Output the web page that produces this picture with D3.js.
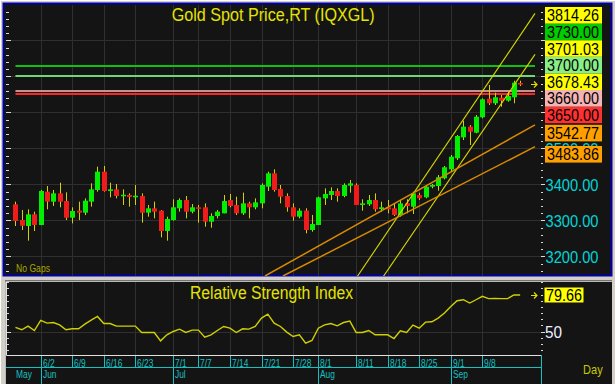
<!DOCTYPE html>
<html><head><meta charset="utf-8">
<script src="https://cdn.jsdelivr.net/npm/d3@7/dist/d3.min.js"></script>
<style>body{margin:0;background:#d4d0c8;}svg{display:block}</style>
</head><body><svg id="c" width="615" height="384"></svg>
<script>
// ---------- DATA ----------
const dates = ["5/27","5/28","5/29","5/30",
"6/2","6/3","6/4","6/5","6/6","6/9","6/10","6/11","6/12","6/13","6/16","6/17","6/18","6/19","6/20","6/23","6/24","6/25","6/26","6/27","6/30",
"7/1","7/2","7/3","7/4","7/7","7/8","7/9","7/10","7/11","7/14","7/15","7/16","7/17","7/18","7/21","7/22","7/23","7/24","7/25","7/28","7/29","7/30","7/31",
"8/1","8/4","8/5","8/6","8/7","8/8","8/11","8/12","8/13","8/14","8/15","8/18","8/19","8/20","8/21","8/22","8/25","8/26","8/27","8/28","8/29",
"9/1","9/2","9/3","9/4","9/5","9/8","9/9","9/10","9/11","9/12","9/15","9/16"];
const open  = [3344.9,3301.3,3284.7,3317.1,3287.5,3380,3352.3,3375.4,3354.1,3307.8,3327.3,3321.7,3352.3,3384.7,3435.6,3381.9,3386.5,3368,3370.8,3364.3,3368,3321.7,3333.8,3327.3,3270.8,3301.3,3333.8,3356.9,3324.5,3336.6,3336.6,3296.7,3312.4,3319.9,3356.9,3343,3319.9,3347.6,3336.6,3347.6,3394,3431,3387.5,3368,3336.6,3310.6,3327.3,3273.6,3287.5,3361.5,3370.8,3381.9,3368,3396.7,3398.6,3343,3344.9,3356.9,3331.9,3336.6,3333.8,3315.3,3347.8,3338.3,3370.8,3364.4,3393.9,3395.8,3417.2,3442.2,3472.8,3531,3560.6,3543.9,3586.7,3638.3,3625.6,3641.1,3632.8,3642.2,3682];
const high  = [3352.3,3329.1,3331,3324.5,3384.7,3395.8,3384.7,3405,3378.2,3336.6,3352.3,3361.5,3403.2,3449.5,3451.4,3405,3401.4,3386.5,3375.4,3398.6,3375.4,3343,3352.3,3329,3310.6,3358.8,3361.5,3368,3345.8,3343,3347.6,3319.9,3329.1,3370.8,3373.6,3366.2,3377.3,3352.3,3361.5,3403.2,3435.6,3442.1,3398.6,3375.4,3347.6,3333.8,3333.8,3315.3,3366.2,3389.3,3392.1,3389.3,3403.2,3412.5,3403.2,3358.8,3370.8,3375.4,3352.3,3356.9,3347.6,3356.9,3358.9,3380,3377,3398.6,3401.4,3426.4,3451.4,3481.9,3537.5,3577.2,3565.3,3593,3639.4,3676.4,3655,3648.6,3657.8,3688.3,3688.3];
const low   = [3284.7,3273.6,3244,3270.8,3287,3331,3340.3,3336.6,3301.3,3292,3301.3,3315,3338.4,3380,3380,3364.3,3361.5,3343,3338.4,3343,3294,3310.6,3306,3253.2,3244,3299.5,3324.5,3306,3319.9,3294,3282.8,3280,3306,3319.9,3336.6,3315.3,3315.3,3306,3331,3333.8,3381.9,3380,3347.6,3324.5,3299.5,3306,3264.3,3268.9,3287.5,3343,3356.9,3352.3,3364.3,3377.3,3343,3327.3,3340.3,3324.5,3324.5,3320,3312.4,3310.6,3320,3318,3357,3361.7,3389.4,3382.8,3414.4,3435.6,3468,3523.6,3509.7,3542.2,3583.9,3620.8,3620.8,3616.1,3630,3625.6,3673.6];
const close = [3298.6,3285.6,3317.1,3287.5,3381.9,3352.3,3375.4,3352.3,3307.8,3326.3,3321.7,3355,3386.5,3435.6,3381.9,3386.5,3368,3371.7,3365.2,3368.9,3321.7,3333.8,3324.5,3270.8,3304.1,3336.6,3356.9,3324.5,3336.6,3334.7,3296.7,3312.4,3324.5,3354.1,3340.3,3319.9,3347.6,3336.6,3350.4,3398.6,3431,3384.7,3366.2,3336.6,3310.6,3327.3,3273.6,3290.2,3364.3,3373.6,3381.9,3368,3398.6,3403.2,3343,3347.6,3356.9,3331,3336.6,3331,3315.3,3347.6,3340.3,3375.5,3361.7,3393.9,3398.6,3420,3447.8,3477.2,3534.7,3560.6,3546.7,3588.3,3636.7,3625.6,3642.2,3632.8,3645.8,3682.8,3678.43];
const rsi   = [53.3,51.4,54.4,50.8,59.0,56.8,57.3,55.4,51.4,52.2,52.2,56.0,59.3,62.2,56.5,56.5,54.4,54.4,54.4,54.4,49.2,49.2,49.2,42.4,47.3,50.0,51.9,49.2,51.1,51.1,45.4,47.3,50.8,54.1,52.7,49.2,52.2,51.9,54.1,60.9,64.1,56.8,54.1,49.5,45.9,47.3,40.5,42.7,52.7,55.4,56.5,54.6,57.3,58.4,49.2,49.2,50.8,47.3,47.3,47.3,44.3,50.5,49.2,55.2,52.7,57.6,57.9,60.9,65.0,70.4,75.0,75.8,73.1,75.8,78.6,76.7,76.9,76.7,76.7,79.7,79.66];
// horizontal level lines (price, colour of line, colour of label box)
const levels = [3730, 3700, 3660, 3650];
const levelColors = ["#10c010", "#70d870", "#c89090", "#ff2424"];
const levelBoxColors = ["#00cc00", "#88ee88", "#f4b4b4", "#ff3030"];
// trend lines: [dateIndex, price] start and at last bar
const trendStart = [[54.13, 3143.1], [58.26, 3143.1], [39.55, 3145.8], [42.4, 3145.8]];
const trendEnd   = [[80, 3814.26], [80, 3701.03], [80, 3542.77], [80, 3483.86]];
const trendColors = ["#d8d800", "#d8d800", "#d88a00", "#d88a00"];
const trendBoxColors = ["#ffff00", "#ffff00", "#ffa000", "#ffa000"];
const gridTicks = [3200, 3300, 3400, 3500, 3600, 3700, 3800];
const priceTickLabels = [3200, 3300, 3400, 3500];
const rsiTicks = [50];
const weekLabels = ["6/2","6/9","6/16","6/23","7/1","7/7","7/14","7/21","7/28","8/1","8/11","8/18","8/25","9/1","9/8"];
const monthLabels = ["May","Jun","Jul","Aug","Sep"];
const monthStarts = ["5/27","6/2","7/1","8/1","9/1"];
const lineEndIndex = 82.35;

// ---------- LAYOUT ----------
const FONT = "'Liberation Sans', Arial, sans-serif";
const svg = d3.select("#c");
const M = {l: 6, r: 541, t: 5, b: 276};
const R = {t: 282, b: 355};
const x = d3.scaleLinear().domain([-1.5, 83.3]).range([M.l, M.r]);
const y = d3.scaleLinear().domain([3145.8, 3898.6]).range([M.b, M.t]);
const yr = d3.scaleLinear().domain([50 - (R.b - 331.5) / 1.2307, 50 + (331.5 - R.t) / 1.2307]).range([R.b, R.t]);
const px = v => Math.round(v) + 0.5;

function condense(sel, f) {
  sel.each(function () {
    const n = this.getComputedTextLength();
    this.setAttribute("textLength", n * f);
    this.setAttribute("lengthAdjust", "spacingAndGlyphs");
  });
}

// background / frames
svg.append("rect").attr("width", 615).attr("height", 384).attr("fill", "#d4d0c8");
svg.append("line").attr("x1", 0).attr("x2", 615).attr("y1", 0.5).attr("y2", 0.5).attr("stroke", "#fff");
svg.append("line").attr("x1", 0.5).attr("x2", 0.5).attr("y1", 0).attr("y2", 384).attr("stroke", "#fff");
svg.append("rect").attr("x", 3.5).attr("y", 3.5).attr("width", 608).attr("height", 272)
  .attr("fill", "#141414").attr("stroke", "#0000a8").attr("stroke-width", 2);
svg.append("rect").attr("x", 5).attr("y", 280.5).attr("width", 607).attr("height", 104).attr("fill", "#141414");
svg.append("path").attr("d", "M5.5,384V281.5H612").attr("fill", "none").attr("stroke", "#b8b8b8");

const defs = svg.append("defs");
defs.append("clipPath").attr("id", "clipMain").append("rect")
  .attr("x", M.l).attr("y", M.t).attr("width", M.r - M.l).attr("height", M.b - M.t);

const weekIdx = weekLabels.map(d => dates.indexOf(d));
const monthIdx = monthStarts.map(d => dates.indexOf(d));

// ---------- MAIN PANEL ----------
const grid = svg.append("g").attr("stroke", "#2f2f2f").attr("stroke-width", 1);
grid.selectAll(".hg").data(gridTicks).join("line")
  .attr("x1", M.l).attr("x2", M.r).attr("y1", d => px(y(d))).attr("y2", d => px(y(d)));
grid.selectAll(".vg").data(weekIdx).join("line").attr("class", "vg")
  .attr("x1", d => px(x(d))).attr("x2", d => px(x(d))).attr("y1", M.t).attr("y2", M.b);
grid.selectAll(".vr").data(weekIdx).join("line").attr("class", "vr")
  .attr("x1", d => px(x(d))).attr("x2", d => px(x(d))).attr("y1", R.t).attr("y2", R.b);
grid.append("line").attr("x1", M.l).attr("x2", M.r).attr("y1", px(yr(50))).attr("y2", px(yr(50)));

// axis ticks main (left & right)
const minor = d3.range(3160, 3900, 20);
const tk = svg.append("g").attr("stroke", "#d8d8d8").attr("stroke-width", 1);
tk.selectAll(".lt").data(minor).join("line").attr("class", "lt")
  .attr("x1", M.l).attr("x2", d => M.l + (d % 100 === 0 ? 5 : 3))
  .attr("y1", d => px(y(d))).attr("y2", d => px(y(d)));
tk.selectAll(".rt").data(minor).join("line").attr("class", "rt")
  .attr("x1", M.r).attr("x2", d => M.r + (d % 100 === 0 ? 4 : 2))
  .attr("y1", d => px(y(d))).attr("y2", d => px(y(d)));
const rMinor = d3.range(35, 91, 5);
tk.selectAll(".lrt").data(rMinor).join("line").attr("class", "lrt")
  .attr("x1", M.l).attr("x2", d => M.l + (d % 50 === 0 ? 5 : 3))
  .attr("y1", d => px(yr(d))).attr("y2", d => px(yr(d)));
tk.selectAll(".rrt").data(rMinor).join("line").attr("class", "rrt")
  .attr("x1", M.r).attr("x2", d => M.r + (d % 50 === 0 ? 4 : 2))
  .attr("y1", d => px(yr(d))).attr("y2", d => px(yr(d)));

const plot = svg.append("g").attr("clip-path", "url(#clipMain)");

// level lines
plot.selectAll(".lvl").data(levels).join("line")
  .attr("x1", x(0)).attr("x2", x(lineEndIndex))
  .attr("y1", d => Math.round(y(d))).attr("y2", d => Math.round(y(d)))
  .attr("stroke", (d, i) => levelColors[i]).attr("stroke-width", 2);

// candles
const idx = d3.range(dates.length);
plot.selectAll(".wick").data(idx).join("line")
  .attr("x1", i => px(x(i))).attr("x2", i => px(x(i)))
  .attr("y1", i => y(high[i])).attr("y2", i => y(low[i]))
  .attr("stroke", "#d2d200").attr("stroke-width", 1);
plot.selectAll(".body").data(idx).join("rect")
  .attr("x", i => Math.round(x(i)) - 2).attr("width", 5)
  .attr("y", i => y(Math.max(open[i], close[i])))
  .attr("height", i => Math.max(1.6, Math.abs(y(open[i]) - y(close[i]))))
  .attr("fill", i => close[i] >= open[i] ? "#00ee00" : "#f01c1c");

// trend lines (extended to the right end)
plot.selectAll(".trend").data(trendStart).join("line")
  .attr("x1", d => x(d[0])).attr("y1", d => y(d[1]))
  .attr("x2", (d, i) => x(lineEndIndex))
  .attr("y2", (d, i) => {
    const e = trendEnd[i];
    const slope = (e[1] - d[1]) / (e[0] - d[0]);
    return y(e[1] + slope * (lineEndIndex - e[0]));
  })
  .attr("stroke", (d, i) => trendColors[i]).attr("stroke-width", (d, i) => i < 2 ? 1.1 : 1.5);

// arrows
function arrow(yy) {
  const ay = Math.round(yy) + 0.5;
  svg.append("path").attr("d", `M531,${ay}H537M534,${ay - 3}L537,${ay}L534,${ay + 3}`)
    .attr("stroke", "#e0e000").attr("stroke-width", 1.2).attr("fill", "none");
}
arrow(y(close[close.length - 1]));
arrow(yr(rsi[rsi.length - 1]));

// title & notes
svg.append("text").attr("x", 171.7).attr("y", 20.7).text("Gold  Spot  Price,RT  (IQXGL)")
  .attr("font-family", FONT).attr("font-size", 18).attr("fill", "#e4e400")
  .attr("textLength", 203).attr("lengthAdjust", "spacingAndGlyphs");
svg.append("text").attr("x", 16).attr("y", 272).text("No  Gaps")
  .attr("font-family", FONT).attr("font-size", 10).attr("fill", "#a8a800")
  .attr("textLength", 34).attr("lengthAdjust", "spacingAndGlyphs");

// price axis tick labels (drawn beneath label boxes)
svg.selectAll(".ptl").data(priceTickLabels).join("text")
  .attr("x", 545.5).attr("y", d => y(d) + 6.2).text(d => d.toFixed(2))
  .attr("font-family", FONT).attr("font-size", 17).attr("fill", "#00d4d4")
  .attr("textLength", 53).attr("lengthAdjust", "spacingAndGlyphs");

// label boxes: stacked without overlap
const boxes = [];
trendEnd.forEach((e, i) => boxes.push({v: e[1], bg: trendBoxColors[i]}));
levels.forEach((v, i) => boxes.push({v, bg: levelBoxColors[i]}));
boxes.push({v: close[close.length - 1], bg: "#ffff00"});
boxes.sort((a, b) => a.v - b.v);
const BH = 16.6;
boxes.forEach((b, i) => {
  b.y = y(b.v);
  if (i > 0) b.y = Math.min(b.y, boxes[i - 1].y - BH);
});
for (let i = boxes.length - 1; i >= 0; i--) {
  if (i === boxes.length - 1) boxes[i].y = Math.max(boxes[i].y, M.t + 2 + BH / 2);
  else boxes[i].y = Math.max(boxes[i].y, boxes[i + 1].y + BH);
}
const bx = svg.selectAll(".box").data(boxes).join("g").attr("transform", d => `translate(0,${d.y})`);
bx.append("rect").attr("x", 545).attr("y", -BH / 2).attr("width", 57).attr("height", BH).attr("fill", d => d.bg);
bx.append("text").attr("x", 547).attr("y", 6).text(d => d.v.toFixed(2))
  .attr("font-family", FONT).attr("font-size", 16.5).attr("fill", "#000")
  .attr("textLength", 52).attr("lengthAdjust", "spacingAndGlyphs");

// ---------- RSI PANEL ----------
svg.append("path").attr("d", `M${M.l + 0.5},${R.t}V${R.b + 0.5}H${M.r}`).attr("fill", "none").attr("stroke", "#e0e0e0");
svg.append("path").datum(rsi)
  .attr("d", d3.line().x((d, i) => x(i)).y(d => yr(d)))
  .attr("fill", "none").attr("stroke", "#d0d000").attr("stroke-width", 1.4);
svg.append("text").attr("x", 190).attr("y", 299).text("Relative  Strength  Index")
  .attr("font-family", FONT).attr("font-size", 18).attr("fill", "#e4e400")
  .attr("textLength", 163).attr("lengthAdjust", "spacingAndGlyphs");
svg.selectAll(".rtl").data(rsiTicks).join("text")
  .attr("x", 545).attr("y", d => yr(d) + 6.2).text(d => d)
  .attr("font-family", FONT).attr("font-size", 17).attr("fill", "#f0f0ff")
  .attr("textLength", 17).attr("lengthAdjust", "spacingAndGlyphs");
const lastR = rsi[rsi.length - 1];
svg.append("rect").attr("x", 544.5).attr("y", yr(lastR) - 7.5).attr("width", 39).attr("height", 15).attr("fill", "#ffff00");
svg.append("text").attr("x", 546).attr("y", yr(lastR) + 6).text(lastR.toFixed(2))
  .attr("font-family", FONT).attr("font-size", 17).attr("fill", "#000")
  .attr("textLength", 36).attr("lengthAdjust", "spacingAndGlyphs");

// ---------- DATE AXIS ----------
const cy = "#14c0c0";
const ax = svg.append("g").attr("stroke", cy).attr("stroke-width", 1);
ax.append("line").attr("x1", M.l).attr("x2", M.r + 0.5).attr("y1", 367.5).attr("y2", 367.5);
ax.append("line").attr("x1", M.r + 0.5).attr("x2", M.r + 0.5).attr("y1", R.b).attr("y2", 384);
ax.selectAll(".wt").data(weekIdx).join("line")
  .attr("x1", d => px(x(d))).attr("x2", d => px(x(d))).attr("y1", R.b + 1).attr("y2", 367.5);
ax.selectAll(".mt").data(monthIdx.slice(1)).join("line")
  .attr("x1", d => px(x(d))).attr("x2", d => px(x(d))).attr("y1", 367.5).attr("y2", 384);
svg.selectAll(".wl").data(weekLabels).join("text")
  .attr("x", (d, i) => Math.round(x(weekIdx[i])) + 2).attr("y", 366.5).text(d => d)
  .attr("font-family", FONT).attr("font-size", 10.5).attr("fill", cy)
  .call(condense, 0.8);
svg.selectAll(".ml").data(monthLabels).join("text")
  .attr("x", (d, i) => i === 0 ? 16 : Math.round(x(monthIdx[i])) + 2).attr("y", 378).text(d => d)
  .attr("font-family", FONT).attr("font-size", 10.5).attr("fill", cy)
  .call(condense, 0.8);
svg.append("text").attr("x", 583).attr("y", 374).text("Day")
  .attr("font-family", FONT).attr("font-size", 13).attr("fill", "#c8c800")
  .call(condense, 0.85);
</script></body></html>
